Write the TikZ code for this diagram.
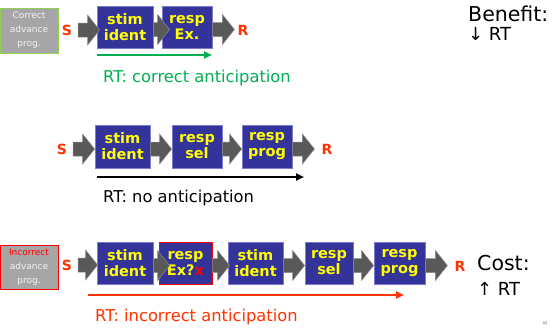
\documentclass[tikz,border=0pt]{standalone}
\usepackage{fontspec}
\setmainfont{DejaVu Sans}
\newfontfamily\tinyserif{Liberation Serif}
\usetikzlibrary{calc,arrows.meta}
\definecolor{boxblue}{HTML}{333399}
\definecolor{boxedge}{HTML}{7A7AD6}
\definecolor{arrgray}{HTML}{595959}
\definecolor{arredge}{HTML}{8A8A8A}
\definecolor{sred}{HTML}{FF3300}
\definecolor{rtgreen}{HTML}{00B050}
\definecolor{panelgray}{HTML}{A6A6A6}
\definecolor{panelgreen}{HTML}{92D050}
\definecolor{paneltext}{HTML}{F2F2F2}
\definecolor{boxyellow}{HTML}{FFFF00}
\begin{document}
\begin{tikzpicture}[x=1pt,y=-1pt,
  stepbox/.style={draw=boxedge, line width=0.8pt, fill=boxblue, text=boxyellow,
    font=\fontsize{14.5}{16}\selectfont\bfseries, align=center, inner sep=0pt,
    minimum height=42pt},
  panel/.style={fill=panelgray, line width=0.8pt, text=paneltext, align=center,
    font=\fontsize{9}{14}\selectfont, inner sep=0pt, minimum width=58pt, minimum height=45pt},
  sr/.style={text=sred, font=\fontsize{14}{16}\selectfont\bfseries, inner sep=0pt},
  rtlabel/.style={anchor=base west, inner sep=0pt, font=\fontsize{16.3}{18}\selectfont},
  bigtext/.style={anchor=base west, inner sep=0pt, font=\fontsize{20.5}{22}\selectfont},
  arrtext/.style={anchor=base west, inner sep=0pt, font=\fontsize{18}{22}\selectfont},
  rtline/.style={line width=2pt, -{Triangle[length=8pt,width=7pt]}},
  barrow/.style={fill=arrgray, draw=arredge, line width=0.5pt,
    to path={let \p1=(\tikztostart), \p2=(\tikztotarget) in
      (\x1,\y1+7pt) -- (\x2-12pt,\y1+7pt) -- (\x2-12pt,\y1+15pt) -- (\x2,\y1)
      -- (\x2-12pt,\y1-15pt) -- (\x2-12pt,\y1-7pt) -- (\x1,\y1-7pt) -- cycle}}
]
\useasboundingbox (0,0) rectangle (554,327);

% ---------- Row 1 ----------
\node[panel, draw=panelgreen] (g1) at (29,30.5) {Correct\\advance\\prog.};
\node[sr] (s1) at (67,30) {S};
\node[stepbox, minimum width=56pt] (b11) at (125,27) {stim\\ident};
\node[stepbox, minimum width=50pt] (b12) at (187,27) {resp\\Ex.};
\node[sr] (r1) at (243,30) {R};
\draw[barrow] ([xshift=6pt]s1.east) to ([xshift=3pt]b11.west);
\draw[barrow] ([yshift=-2.5pt]b11.east) to ([xshift=8pt]b12.west);
\draw[barrow] ([yshift=-2.5pt]b12.east) to ([xshift=-3pt]r1.west);
\coordinate (l1s) at (97,55);
\coordinate (l1e) at (212,55);
\draw[rtline, rtgreen] (l1s) -- (l1e);
\node[rtlabel, text=rtgreen] (t1) at (103,82) {RT: correct anticipation};
\node[bigtext] (ben) at (468,21) {Benefit:};
\node[arrtext] (ben2) at (468,40) {↓ RT};

% ---------- Row 2 ----------
\node[sr] (s2) at (62,149) {S};
\node[stepbox, minimum width=55pt, minimum height=43pt] (b21) at (122.5,146.5) {stim\\ident};
\node[stepbox, minimum width=50pt, minimum height=43pt] (b22) at (197,146.5) {resp\\sel};
\node[stepbox, minimum width=50pt, minimum height=43pt] (b23) at (267,146.5) {resp\\prog};
\node[sr] (r2) at (327,149) {R};
\draw[barrow] ([xshift=6pt]s2.east) to (b21.west);
\draw[barrow] ([yshift=-2.5pt]b21.east) to (b22.west);
\draw[barrow] ([yshift=-2.5pt]b22.east) to (b23.west);
\draw[barrow] ([yshift=-2.5pt]b23.east) to ([xshift=-7pt]r2.west);
\coordinate (l2s) at (97,177);
\coordinate (l2e) at (304,177);
\draw[rtline, black] (l2s) -- (l2e);
\node[rtlabel] (t2) at (103,202) {RT: no anticipation};

% ---------- Row 3 ----------
\node[panel, draw=red, minimum height=44pt] (g3) at (29,267) {\textcolor{red}{Incorrect}\\advance\\prog.};
\node[sr] (s3) at (67,265) {S};
\node[stepbox, minimum width=56pt] (b31) at (125,263) {stim\\ident};
\node[stepbox, minimum width=53pt, draw=red] (b32) at (185.5,263) {resp\\Ex?\textcolor{red}{x}};
\node[stepbox, minimum width=55pt] (b33) at (255.5,263) {stim\\ident};
\node[stepbox, minimum width=48pt] (b34) at (329,263) {resp\\sel};
\node[stepbox, minimum width=51pt] (b35) at (399.5,263) {resp\\prog};
\node[sr] (r3) at (460,266) {R};
\draw[barrow] ([xshift=6pt]s3.east) to ([xshift=1pt]b31.west);
\draw[barrow] ([yshift=-2.5pt]b31.east) to ([xshift=11pt]b32.west);
\draw[barrow] ([yshift=-2.5pt]b32.east) to ([xshift=2pt]b33.west);
\draw[barrow] ([yshift=-2.5pt]b33.east) to (b34.west);
\draw[barrow] ([yshift=-2.5pt]b34.east) to (b35.west);
\draw[barrow] ([yshift=-2.5pt]b35.east) to ([xshift=-7pt]r3.west);
\coordinate (l3s) at (88,295);
\coordinate (l3e) at (404,295);
\draw[rtline, sred] (l3s) -- (l3e);
\node[rtlabel, text=sred] (t3) at (95,321) {RT: incorrect anticipation};
\node[bigtext] (cost) at (477,270) {Cost:};
\node[arrtext] (cost2) at (477,295) {↑ RT};

\node[anchor=base west, inner sep=0pt, font=\tinyserif\fontsize{5}{6}\selectfont, text=black!70] (frag) at (543,324) {u(};
\end{tikzpicture}
\end{document}
